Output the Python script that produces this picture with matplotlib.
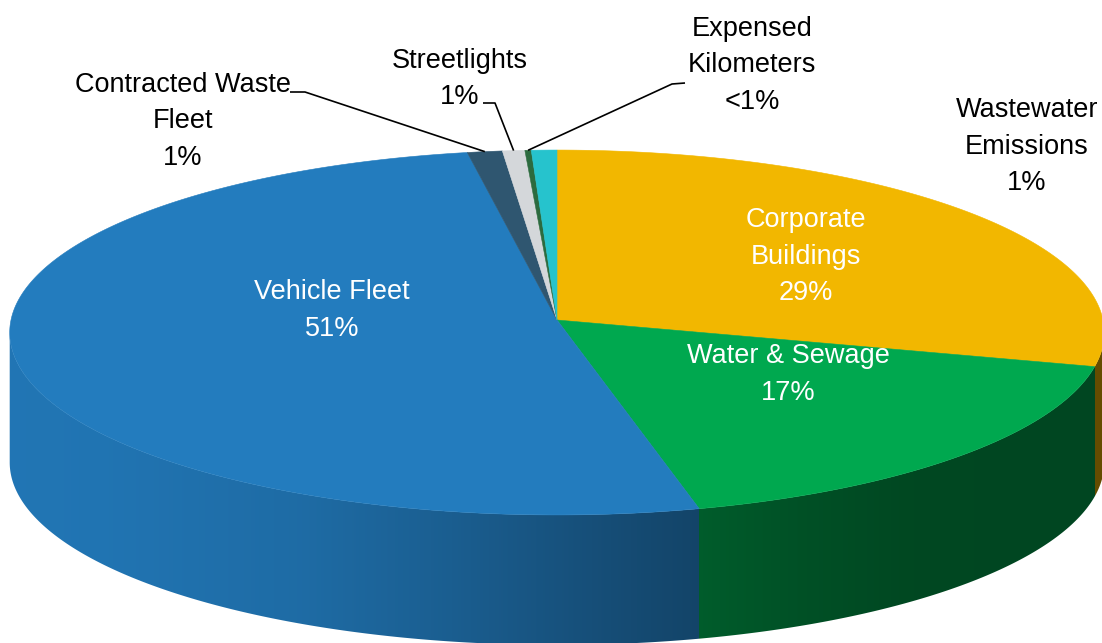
import numpy as np
import matplotlib
matplotlib.use("Agg")
import matplotlib.pyplot as plt
from matplotlib.patches import Polygon
from matplotlib.colors import to_rgb

# Emission sources, clockwise from 12 o'clock
categories = ["Corporate\nBuildings", "Water & Sewage", "Vehicle Fleet",
              "Contracted Waste\nFleet", "Streetlights", "Expensed\nKilometers",
              "Wastewater\nEmissions"]
shares = [29.0, 17.0, 51.0, 1.1, 0.7, 0.2, 0.8]

top_colors = ["#F2B700", "#00A84F", "#237CBE", "#2F5670", "#D4D7DA", "#2C6B3F", "#26C3CD"]
label_colors = ["white", "white", "white", "black", "black", "black", "black"]

# label placement: (x centre, first baseline) in pixel space, optional leader elbow
label_pos = [(806, 227), (788, 363), (332, 299), (183, 92), (460, 68), (752, 36), (1027, 117)]
leader_elbows = {3: [(290, 92), (305, 92)], 4: [(483, 103), (495, 103)], 5: [(685, 83), (672, 84)]}
LINE_STEP = 36.5

W, H = 1102, 643
CX, CY, A, B, K, DEPTH = 557, 320, 546, 181.6, 0.0685, 130


def project(phi_deg, drop=0.0):
    """Perspective view of a point on the disc rim; phi measured clockwise from the top."""
    p = np.radians(phi_deg)
    u, v = np.sin(p), np.cos(p)
    w = 1 + K * v
    return CX + A * u / w, CY - B * v / w + drop


def side_shade(x):
    xs = [0, 100, 300, 450, 600, 700, 800, 900, 1000, 1110]
    ss = [0.95, 0.94, 0.87, 0.76, 0.63, 0.55, 0.48, 0.43, 0.42, 0.42]
    return np.interp(x, xs, ss)


def pct_label(v):
    return "<1%" if v < 0.5 else f"{round(v):d}%"


fig = plt.figure(figsize=(W / 100, H / 100), dpi=100)
ax = fig.add_axes([0, 0, 1, 1])

total = sum(shares)
bounds = np.concatenate([[0], np.cumsum(shares)]) / total * 360.0

# --- side wall: the visible front half, shaded left to right ---
phi_lo = np.degrees(np.arccos(-K))
phi_hi = 360 - phi_lo
phis = np.linspace(phi_lo, phi_hi, 1500)
rim_x, rim_y = project(phis)

ncols = W * 4
col_x = (np.arange(ncols) + 0.5) / 4.0
# x decreases along the front rim, so flip for interpolation
col_phi = np.interp(col_x, rim_x[::-1], phis[::-1])
col_idx = np.clip(np.searchsorted(bounds, col_phi) - 1, 0, len(shares) - 1)
base_rgb = np.array([to_rgb(c) for c in top_colors])
strip = base_rgb[col_idx] * side_shade(col_x)[:, None]
img = np.clip(strip[None, :, :], 0, 1)
im = ax.imshow(img, extent=(0, W, H, 0), aspect="auto", interpolation="nearest", zorder=1)
wall = list(zip(rim_x, rim_y)) + list(zip(rim_x[::-1], rim_y[::-1] + DEPTH))
im.set_clip_path(Polygon(wall, closed=True, transform=ax.transData))

# --- top faces ---
mids = []
for i, (a0, a1) in enumerate(zip(bounds[:-1], bounds[1:])):
    n = max(3, int((a1 - a0) * 4))
    arc = np.linspace(a0, a1, n)
    xs, ys = project(arc)
    pts = [(CX, CY)] + list(zip(xs, ys))
    ax.add_patch(Polygon(pts, closed=True, facecolor=top_colors[i], edgecolor=top_colors[i],
                         linewidth=0.4, zorder=2))
    mids.append(0.5 * (a0 + a1))

# --- labels ---
font = dict(family=["Liberation Sans", "DejaVu Sans"], size=19.5)
for i, (name, val) in enumerate(zip(categories, shares)):
    lines = name.split("\n") + [pct_label(val)]
    x, y0 = label_pos[i]
    for j, line in enumerate(lines):
        ax.text(x, y0 + j * LINE_STEP, line, ha="center", va="baseline",
                color=label_colors[i], zorder=4, **font)
    if i in leader_elbows:
        ex, ey = project(mids[i])
        pts = leader_elbows[i] + [(ex, ey)]
        ax.plot([p[0] for p in pts], [p[1] for p in pts], color="black", lw=1.2,
                zorder=3, solid_capstyle="butt")

ax.set_xlim(0, W)
ax.set_ylim(H, 0)
ax.axis("off")

fig.savefig("out.png", dpi=100)
